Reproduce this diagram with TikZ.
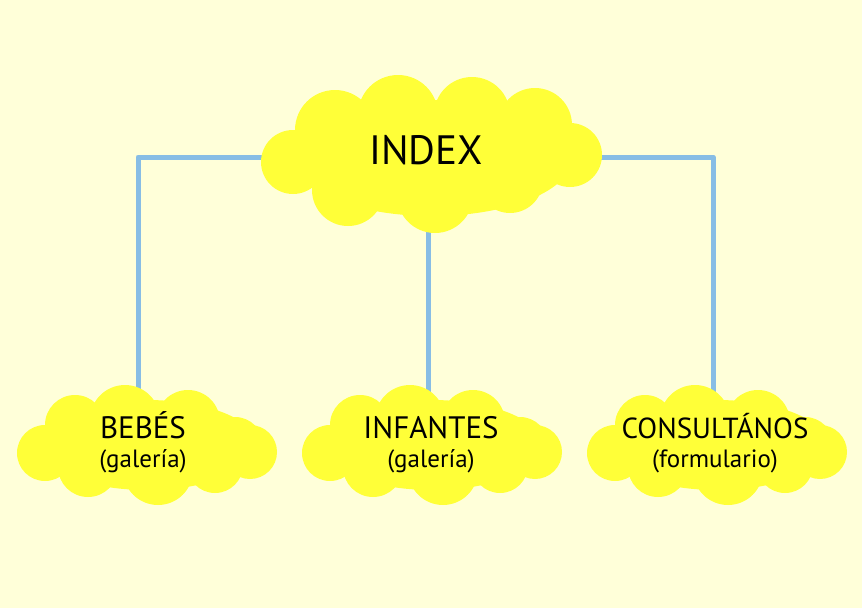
\documentclass[tikz,border=0pt]{standalone}
\usepackage{fontspec}
\setmainfont{PT Sans}
\definecolor{ffffdz}{rgb}{1,1,0.85}
\definecolor{ffffqx}{rgb}{1,1,0.22}
\definecolor{ittxzz}{rgb}{0.53,0.74,0.9}
\newcommand{\detalle}[1]{{\fontsize{25}{29}\selectfont #1}}

\begin{document}
\begin{tikzpicture}[line cap=round,line join=round,x=1pt,y=-1pt]
\useasboundingbox (0,0) rectangle (862,608);
\fill[color=ffffdz] (0,0) rectangle (862,608);
% puntos de union
\coordinate (cIndex) at (428,157);
\coordinate (cBebes) at (138,445);
\coordinate (cInfantes) at (428,445);
\coordinate (cConsult) at (713,445);
\draw[line width=5pt,color=ittxzz,line cap=butt] (cIndex) -| (cBebes);
\draw[line width=5pt,color=ittxzz,line cap=butt] (cIndex) -- (cInfantes);
\draw[line width=5pt,color=ittxzz,line cap=butt] (cIndex) -| (cConsult);
% nube superior
\fill[color=ffffqx] (432,158) ellipse (140 and 58);
\foreach \cx/\cy/\r in {293/162/32,335/130/40,398/115/40,472/115/38,535/125/37,570/155/32,510/180/33,435/195/38,348/190/36}
\fill[color=ffffqx] (\cx,\cy) circle (\r);
% nubes inferiores
\foreach \cx in {147,432,717}
{
\fill[color=ffffqx] (\cx,445) ellipse (110 and 45);
\foreach \dx/\dy/\r in {-102/8/28,-72/-20/30,-22/-25/35,41/-23/32,88/0/28,103/7/27,-59/22/30,11/25/35,68/20/28}
\fill[color=ffffqx] (\cx+\dx,445+\dy) circle (\r);
}
\node[font=\fontsize{41}{41}\selectfont] (index) at (426,150) {INDEX};
\begin{scope}[every node/.style={align=center,anchor=base,font=\fontsize{31}{29}\selectfont}]
\node (bebes) at (143,467) {BEBÉS\\\detalle{(galería)}};
\node (infantes) at (431,467) {INFANTES\\\detalle{(galería)}};
\node[font=\fontsize{29}{29}\selectfont] (consultanos) at (715,467) {CONSULTÁNOS\\\detalle{(formulario)}};
\end{scope}
\end{tikzpicture}
\end{document}
